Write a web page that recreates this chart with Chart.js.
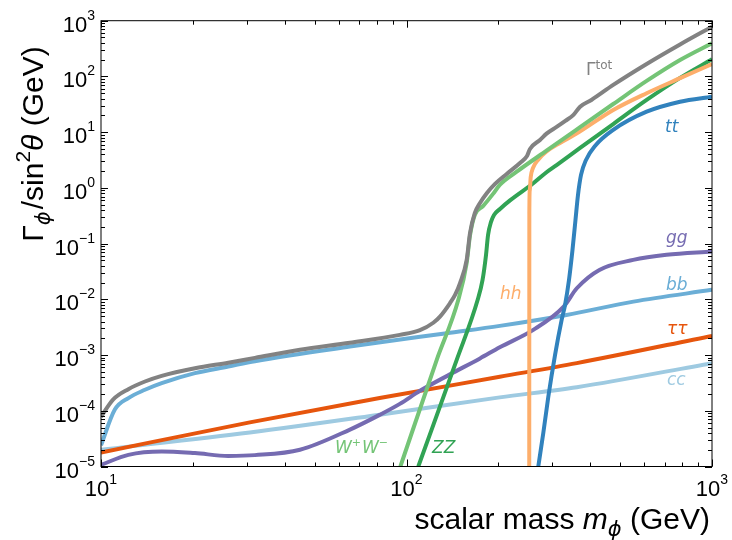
<!DOCTYPE html>
<html><head><meta charset="utf-8">
<script src="https://cdn.jsdelivr.net/npm/chart.js@4/dist/chart.umd.min.js"></script>
<style>html,body{margin:0;padding:0;background:#fff;}canvas{display:block;}</style>
</head><body>
<canvas id="c" width="732" height="540"></canvas>
<script>
// ---- data (mass in GeV, width / sin^2 theta in GeV) ----
const totMass  = [10, 10.97, 12.29, 13.93, 15.8, 20.3, 26.1, 31.9, 44.8, 65.3, 95.1, 110.7, 122.4, 128.7, 138.7, 144.2, 149.7, 157.4, 161.4, 167.4, 174, 183.4, 194.9, 212.8, 235.2, 248, 253.6, 273.5, 288, 310, 331, 352, 370, 403, 475, 611, 786, 1000];
const totWidth = [7.8e-5, 1.6e-4, 2.44e-4, 3.35e-4, 4.24e-4, 5.8e-4, 7.3e-4, 8.9e-4, 1.24e-3, 1.66e-3, 2.3e-3, 2.8e-3, 3.8e-3, 4.9e-3, 8.5e-3, 1.2e-2, 1.95e-2, 5.1e-2, 0.155, 0.355, 0.537, 0.811, 1.18, 1.78, 2.8, 3.74, 5.0, 7.25, 9.5, 12.4, 15.9, 20.4, 28.6, 37.8, 70.3, 167, 374, 780];

const wwMass  = [95.5, 125.6, 147.8, 157.4, 161.4, 167.4, 178, 192, 202, 229.5, 288, 370, 475, 611, 786, 1000];
const wwWidth = [1e-5, 8.2e-4, 9.8e-3, 0.045, 0.14, 0.33, 0.47, 0.78, 1.13, 1.95, 4.7, 12.3, 32, 83, 197, 394];

const zzMass  = [109.3, 146, 171, 177.4, 182.1, 184.9, 189.1, 193.4, 202.3, 218.2, 260, 288, 310, 370, 475, 611, 786, 1000];
const zzWidth = [1e-5, 8.2e-4, 9.8e-3, 0.0223, 0.0627, 0.143, 0.245, 0.327, 0.419, 0.596, 1.21, 1.93, 2.57, 5.2, 14.0, 37.8, 94, 203];

const hhMass  = [252.2, 252.4, 253.2, 255, 259.5, 269.4, 286, 318, 359, 475, 611, 786, 1000];
const hhWidth = [1e-6, 0.35, 0.9, 1.55, 2.28, 3.17, 4.4, 6.4, 9.3, 25, 50, 93, 167];

const ttMass  = [270, 280.4, 291.2, 306.3, 322, 330.3, 340.3, 349.4, 357.4, 364.2, 372.6, 386.9, 414, 475, 611, 786, 1000];
const ttWidth = [1e-5, 4.0e-5, 1.78e-4, 1e-3, 4.27e-3, 7.9e-3, 0.0223, 0.077, 0.266, 0.747, 1.71, 3.17, 5.66, 11.0, 23.3, 35.2, 43.4];

const ggMass  = [10, 12.29, 15.8, 20.3, 26.1, 31.9, 44.8, 65.3, 81.7, 95.1, 110.7, 138.7, 174, 202, 260, 327, 361, 428, 552, 710, 1000];
const ggWidth = [1.07e-5, 1.62e-5, 1.86e-5, 1.74e-5, 1.55e-5, 1.6e-5, 2.0e-5, 4.6e-5, 8.45e-5, 1.33e-4, 2.28e-4, 4.5e-4, 8.7e-4, 1.38e-3, 2.83e-3, 7.4e-3, 1.58e-2, 3.37e-2, 5.1e-2, 6.3e-2, 7.2e-2];

const bbMass  = [10, 11.1, 12.29, 13.93, 15.8, 20.3, 26.1, 31.9, 65.3, 135.4, 202, 334, 553, 1000];
const bbWidth = [2.4e-5, 1.05e-4, 1.69e-4, 2.38e-4, 3.13e-4, 4.73e-4, 6.22e-4, 7.76e-4, 1.42e-3, 2.47e-3, 3.34e-3, 5.25e-3, 9.1e-3, 1.48e-2];

const tautauMass  = [10, 30.7, 81.7, 202, 361, 1000];
const tautauWidth = [1.78e-5, 6.2e-5, 1.69e-4, 4.07e-4, 7.16e-4, 2.21e-3];

const ccMass  = [10, 30.7, 81.7, 202, 361, 1000];
const ccWidth = [2.0e-5, 4.07e-5, 8.5e-5, 1.74e-4, 2.65e-4, 7.16e-4];

const xTickExponents = [1, 2, 3];
const yTickExponents = [-5, -4, -3, -2, -1, 0, 1, 2, 3];

// ---- series definitions (first = drawn on top) ----
const series = [
  {name:'tot',    m: totMass,    w: totWidth,    color:'#828282'},
  {name:'WW',     m: wwMass,     w: wwWidth,     color:'#74c476'},
  {name:'hh',     m: hhMass,     w: hhWidth,     color:'#fdae6b'},
  {name:'ZZ',     m: zzMass,     w: zzWidth,     color:'#31a354'},
  {name:'tt',     m: ttMass,     w: ttWidth,     color:'#3182bd'},
  {name:'gg',     m: ggMass,     w: ggWidth,     color:'#756bb1'},
  {name:'tautau', m: tautauMass, w: tautauWidth, color:'#e6550d'},
  {name:'bb',     m: bbMass,     w: bbWidth,     color:'#6baed6'},
  {name:'cc',     m: ccMass,     w: ccWidth,     color:'#9ecae1'}
];

const datasets = series.map(s => ({
  label: s.name,
  data: s.m.map((m, i) => ({x: m, y: s.w[i]})),
  borderColor: s.color,
  borderWidth: 4,
  pointRadius: 0,
  fill: false,
  cubicInterpolationMode: 'monotone',
  clip: 0
}));

function drawRich(ctx, parts, x, y, align) {
  let total = 0;
  parts.forEach(p => { ctx.font = p.f; p.w = ctx.measureText(p.t).width + (p.gap || 0); total += p.w; });
  let cx = align === 'right' ? x - total : align === 'center' ? x - total / 2 : x;
  parts.forEach(p => { ctx.font = p.f; ctx.fillText(p.t, cx, y + (p.dy || 0)); cx += p.w; });
}

const decorPlugin = {
  id: 'decor',
  afterDatasetsDraw(chart) {
    const ctx = chart.ctx, a = chart.chartArea;
    const xs = chart.scales.x, ys = chart.scales.y;
    ctx.save();
    ctx.strokeStyle = '#000'; ctx.lineWidth = 1;
    ctx.strokeRect(a.left, a.top, a.right - a.left, a.bottom - a.top);
    ctx.beginPath();
    const major = 7, minor = 4;
    for (let e = 1; e <= 3; e++) {
      for (let k = 1; k <= 9; k++) {
        const v = k * Math.pow(10, e);
        if (v < 10 || v > 1000) continue;
        if (e === 3 && k > 1) continue;
        const px = Math.round(xs.getPixelForValue(v)) + 0.5;
        const len = k === 1 ? major : minor;
        ctx.moveTo(px, a.bottom); ctx.lineTo(px, a.bottom - len);
        ctx.moveTo(px, a.top); ctx.lineTo(px, a.top + len);
      }
    }
    for (let e = -5; e <= 3; e++) {
      for (let k = 1; k <= 9; k++) {
        if (e === 3 && k > 1) continue;
        const v = k * Math.pow(10, e);
        const py = Math.round(ys.getPixelForValue(v)) + 0.5;
        const len = k === 1 ? major : minor;
        ctx.moveTo(a.left, py); ctx.lineTo(a.left + len, py);
        ctx.moveTo(a.right, py); ctx.lineTo(a.right - len, py);
      }
    }
    ctx.stroke();

    ctx.fillStyle = '#000';
    ctx.textBaseline = 'alphabetic';
    const big = '22px "Liberation Sans", Arial, sans-serif';
    const sup = '14px "Liberation Sans", Arial, sans-serif';
    const expStr = e => (e < 0 ? '\u2212' + (-e) : String(e));
    yTickExponents.forEach(e => {
      const py = ys.getPixelForValue(Math.pow(10, e));
      drawRich(ctx, [{t:'10', f:big}, {t:expStr(e), f:sup, dy:-12}], 95, py + 11, 'right');
    });
    xTickExponents.forEach(e => {
      const px = xs.getPixelForValue(Math.pow(10, e));
      drawRich(ctx, [{t:'10', f:big}, {t:expStr(e), f:sup, dy:-12}], px, 496, 'center');
    });

    const tf = '30px "Liberation Sans", Arial, sans-serif';
    const tfi = 'italic 30px "Liberation Sans", Arial, sans-serif';
    const tsub = 'italic 21px "DejaVu Sans", sans-serif';
    drawRich(ctx, [
      {t:'scalar mass ', f:tf}, {t:'m', f:tfi}, {t:'\u03d5', f:tsub, dy:7}, {t:' (GeV)', f:tf}
    ], 710, 529, 'right');

    ctx.save();
    ctx.translate(43, 144);
    ctx.rotate(-Math.PI / 2);
    drawRich(ctx, [
      {t:'\u0393', f:tf}, {t:'\u03d5', f:tsub, dy:7, gap:2}, {t:'/sin', f:tf},
      {t:'2', f:'21px "Liberation Sans", Arial, sans-serif', dy:-13}, {t:'\u03b8', f:tfi}, {t:' (GeV)', f:tf}
    ], 0, 0, 'center');
    ctx.restore();

    const lf = 'italic 17px "DejaVu Sans", sans-serif';
    const lfs = 'italic 11px "DejaVu Sans", sans-serif';
    ctx.fillStyle = '#828282';
    drawRich(ctx, [{t:'\u0393', f:'17px "DejaVu Sans", sans-serif'}, {t:'tot', f:'12px "DejaVu Sans", sans-serif', dy:-6}], 586, 75, 'left');
    ctx.fillStyle = '#3182bd'; ctx.font = lf; ctx.fillText('tt', 665, 132);
    ctx.fillStyle = '#756bb1'; ctx.fillText('gg', 666, 243);
    ctx.fillStyle = '#6baed6'; ctx.fillText('bb', 666, 290);
    ctx.fillStyle = '#e6550d'; ctx.fillText('\u03c4\u03c4', 667, 334);
    ctx.fillStyle = '#9ecae1'; ctx.fillText('cc', 667, 385);
    ctx.fillStyle = '#fdae6b'; ctx.fillText('hh', 500, 299);
    ctx.fillStyle = '#31a354'; ctx.fillText('ZZ', 432, 453);
    ctx.fillStyle = '#74c476';
    drawRich(ctx, [{t:'W', f:lf}, {t:'+', f:lfs, dy:-7, gap:1}, {t:'W', f:lf}, {t:'\u2212', f:lfs, dy:-7}], 335, 453, 'left');
    ctx.restore();
  }
};

new Chart(document.getElementById('c'), {
  type: 'line',
  data: { datasets },
  options: {
    responsive: false,
    animation: false,
    devicePixelRatio: 1,
    layout: { padding: { left: 101, top: 20.7, right: 20, bottom: 73.5 } },
    plugins: { legend: { display: false }, tooltip: { enabled: false } },
    scales: {
      x: { type: 'logarithmic', min: 10, max: 1000, display: false },
      y: { type: 'logarithmic', min: 1e-5, max: 1e3, display: false }
    }
  },
  plugins: [decorPlugin]
});
</script>
</body></html>
